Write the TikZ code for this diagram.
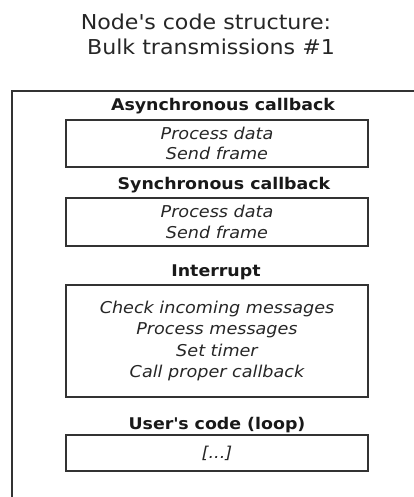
\documentclass[tikz,border=0pt]{standalone}
\usepackage{fontspec}
\setmainfont{DejaVu Sans}[FakeStretch=1.08]
\begin{document}
\begin{tikzpicture}[x=1pt,y=-1pt,
  frame/.style={draw=black!80, line width=1.2pt},
  block/.style={draw=black!80, line width=1.2pt, minimum width=302pt, inner sep=0pt,
    align=center, font=\fontsize{16.3}{20.5}\selectfont\itshape, text=black!85},
  heading/.style={anchor=base, font=\fontsize{16.1}{19}\selectfont\bfseries, text=black!90},
  title/.style={anchor=base, font=\fontsize{20.5}{24}\selectfont, text=black!85}]
\useasboundingbox (0,0) rectangle (414,497);

% title
\node[title] (t1) at (206,30) {Node\textquotesingle s code structure:};
\node[title] (t2) at (211,55) {Bulk transmissions \#1};

% outer frame, open to the right and bottom
\draw[frame] (414,91) -- (12,91) -- (12,497);

% asynchronous callback
\node[heading] (h1) at (223,111) {Asynchronous callback};
\node[block, minimum height=47pt] (async) at (217,143.5) {Process data\\Send frame};

% synchronous callback
\node[heading] (h2) at (224,189) {Synchronous callback};
\node[block, minimum height=48pt] (sync) at (217,222) {Process data\\Send frame};

% interrupt
\node[heading] (h3) at (216,276) {Interrupt};
\node[block, minimum height=112pt, font=\fontsize{16.3}{21.5}\selectfont\itshape] (intr) at (217,341)
  {Check incoming messages\\Process messages\\Set timer\\Call proper callback};

% user's code
\node[heading] (h4) at (217,429) {User\textquotesingle s code (loop)};
\node[block, minimum height=36pt] (user) at (217,453) {[...]};
\end{tikzpicture}
\end{document}
